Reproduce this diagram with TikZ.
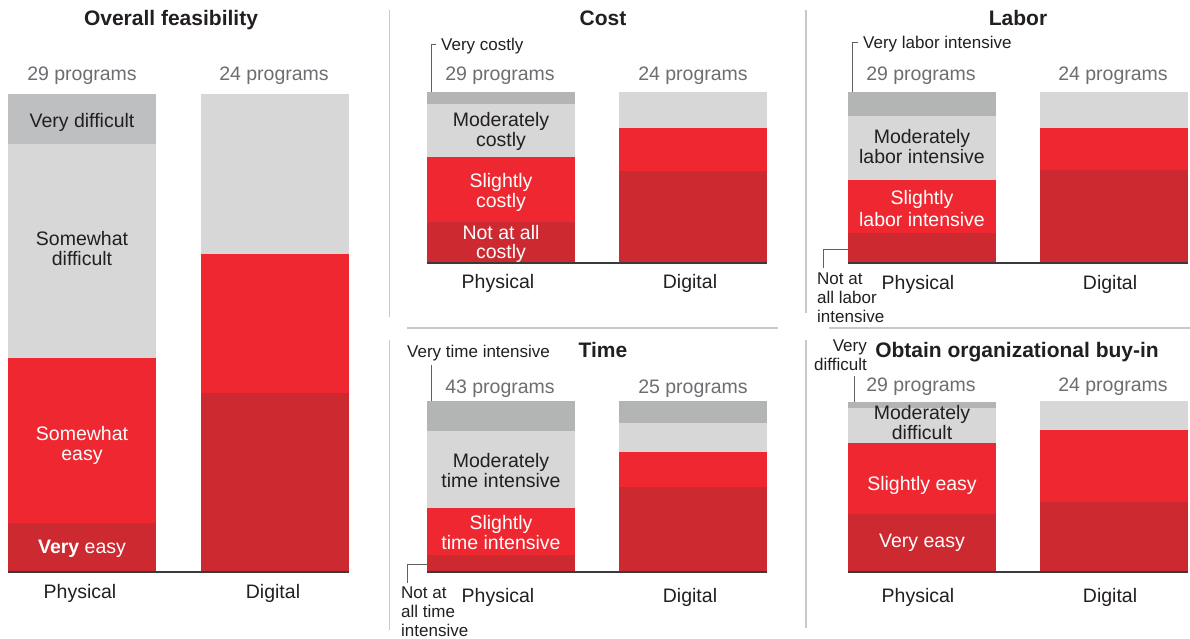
\documentclass[tikz,border=0pt]{standalone}
\usepackage{fontspec}
\setmainfont{Liberation Sans}
\definecolor{vdgA}{HTML}{BEBFC1}
\definecolor{vdg}{HTML}{B3B4B4}
\definecolor{lg}{HTML}{D7D7D7}
\definecolor{rd}{HTML}{EE2730}
\definecolor{drd}{HTML}{CD2930}
\definecolor{axc}{HTML}{3A3A3A}
\definecolor{cntc}{HTML}{6D6E71}
\definecolor{txt}{HTML}{231F20}
\definecolor{sepc}{HTML}{C8C8C8}
\begin{document}
\begin{tikzpicture}[x=1pt,y=-1pt,
  lbl/.style={inner sep=0pt,anchor=base,align=center,text=txt,font=\fontsize{19.5}{20}\selectfont},
  wlbl/.style={lbl,text=white},
  cnt/.style={lbl,text=cntc},
  ttl/.style={inner sep=0pt,anchor=base,text=txt,font=\fontsize{21}{22}\selectfont\bfseries},
  sml/.style={inner sep=0pt,anchor=base west,align=left,text=txt,font=\fontsize{17}{19}\selectfont},
  axis/.style={draw=axc,line width=2.5pt},
  sep/.style={draw=sepc,line width=1.5pt},
  lead/.style={draw=axc!80,line width=1pt}]
\useasboundingbox (0,0) rectangle (1190,638);
\fill[white] (0,0) rectangle (1190,638);

% separators
\draw[sep] (389.5,10) -- (389.5,317);
\draw[sep] (389.5,340) -- (389.5,630);
\draw[sep] (806,10) -- (806,313);
\draw[sep] (806,340) -- (806,628);
\draw[sep] (407,328) -- (778,328);
\draw[sep] (829,328) -- (1190,328);

% ---------- Overall feasibility ----------
\fill[vdgA] (8,94) rectangle (156,144);
\fill[lg] (8,144) rectangle (156,358);
\fill[rd] (8,358) rectangle (156,523);
\fill[drd] (8,523) rectangle (156,571);
\fill[lg] (201,94) rectangle (349,254);
\fill[rd] (201,254) rectangle (349,393);
\fill[drd] (201,393) rectangle (349,571);
\draw[axis] (8,572) -- (349,572);
\node[ttl] (t1) at (171,25) {Overall feasibility};
\node[cnt] (c1a) at (82,80) {29 programs};
\node[cnt] (c1b) at (274,80) {24 programs};
\node[lbl] (l1a) at (82,127) {Very difficult};
\node[lbl] (l1b) at (82,265) {Somewhat\\difficult};
\node[wlbl] (l1c) at (82,460) {Somewhat\\easy};
\node[wlbl] (l1d) at (82,553) {\textbf{Very} easy};
\node[lbl] (x1a) at (80,598) {Physical};
\node[lbl] (x1b) at (273,598) {Digital};

% ---------- Cost ----------
\fill[vdg] (427,92) rectangle (575,104);
\fill[lg] (427,104) rectangle (575,157);
\fill[rd] (427,157) rectangle (575,222);
\fill[drd] (427,222) rectangle (575,262);
\fill[lg] (619,92) rectangle (767,128);
\fill[rd] (619,128) rectangle (767,171);
\fill[drd] (619,171) rectangle (767,262);
\draw[axis] (427,263) -- (767,263);
\node[ttl] (t2) at (603,25) {Cost};
\node[sml] (v2) at (441,50) {Very costly};
\draw[lead] (431,92) -- (431,44) -- (436,44);
\node[cnt] (c2a) at (500,80) {29 programs};
\node[cnt] (c2b) at (693,80) {24 programs};
\node[lbl] (l2a) at (501,146) {Moderately\\costly};
\node[wlbl] (l2b) at (501,207) {Slightly\\costly};
\node[wlbl,font=\fontsize{19.5}{18.5}\selectfont] (l2c) at (501,258) {Not at all\\costly};
\node[lbl] (x2a) at (498,288) {Physical};
\node[lbl] (x2b) at (690,288) {Digital};

% ---------- Time ----------
\fill[vdg] (427,401) rectangle (575,431);
\fill[lg] (427,431) rectangle (575,508);
\fill[rd] (427,508) rectangle (575,555);
\fill[drd] (427,555) rectangle (575,571);
\fill[vdg] (619,401) rectangle (767,423);
\fill[lg] (619,423) rectangle (767,452);
\fill[rd] (619,452) rectangle (767,487);
\fill[drd] (619,487) rectangle (767,571);
\draw[axis] (427,572) -- (767,572);
\node[ttl] (t3) at (603,357) {Time};
\node[sml] (v3) at (407,357) {Very time intensive};
\coordinate (v3b) at (431,365);
\draw[lead] (v3b) -- (431,401);
\node[sml] (n3) at (401,636) {Not at\\all time\\intensive};
\coordinate (n3b) at (427,564);
\draw[lead] (n3b) -| (407,583);
\node[cnt] (c3a) at (500,393) {43 programs};
\node[cnt] (c3b) at (693,393) {25 programs};
\node[lbl] (l3a) at (501,487) {Moderately\\time intensive};
\node[wlbl] (l3b) at (501,549) {Slightly\\time intensive};
\node[lbl] (x3a) at (498,602) {Physical};
\node[lbl] (x3b) at (690,602) {Digital};

% ---------- Labor ----------
\fill[vdg] (848,92) rectangle (996,116);
\fill[lg] (848,116) rectangle (996,180);
\fill[rd] (848,180) rectangle (996,233);
\fill[drd] (848,233) rectangle (996,262);
\fill[lg] (1040,92) rectangle (1188,128);
\fill[rd] (1040,128) rectangle (1188,170);
\fill[drd] (1040,170) rectangle (1188,262);
\draw[axis] (848,263) -- (1188,263);
\node[ttl] (t4) at (1018,25) {Labor};
\node[sml] (v4) at (863,48) {Very labor intensive};
\draw[lead] (852,92) -- (852,42) -- (858,42);
\node[sml] (n4) at (817,322) {Not at\\all labor\\intensive};
\draw[lead] (848,249) -| (823,268);
\node[cnt] (c4a) at (921,80) {29 programs};
\node[cnt] (c4b) at (1113,80) {24 programs};
\node[lbl] (l4a) at (922,163) {Moderately\\labor intensive};
\node[wlbl,font=\fontsize{19.5}{21.5}\selectfont] (l4b) at (922,226) {Slightly\\labor intensive};
\node[lbl] (x4a) at (918,289) {Physical};
\node[lbl] (x4b) at (1110,289) {Digital};

% ---------- Buy-in ----------
\fill[vdg] (848,402) rectangle (996,408);
\fill[lg] (848,408) rectangle (996,443);
\fill[rd] (848,443) rectangle (996,514);
\fill[drd] (848,514) rectangle (996,571);
\fill[lg] (1040,401) rectangle (1188,430);
\fill[rd] (1040,430) rectangle (1188,502);
\fill[drd] (1040,502) rectangle (1188,571);
\draw[axis] (848,572) -- (1188,572);
\node[ttl] (t5) at (1017,357) {Obtain organizational buy-in};
\node[sml,anchor=base east,align=right] (v5) at (867,370) {Very\\difficult};
\draw[lead] (854,376) -- (854,402);
\node[cnt] (c5a) at (921,391) {29 programs};
\node[cnt] (c5b) at (1113,391) {24 programs};
\node[lbl,font=\fontsize{19.5}{17}\selectfont] (l5a) at (922,439) {Moderately\\difficult};
\node[wlbl] (l5b) at (922,490) {Slightly easy};
\node[wlbl] (l5c) at (922,547) {Very easy};
\node[lbl] (x5a) at (918,602) {Physical};
\node[lbl] (x5b) at (1110,602) {Digital};
\end{tikzpicture}
\end{document}
